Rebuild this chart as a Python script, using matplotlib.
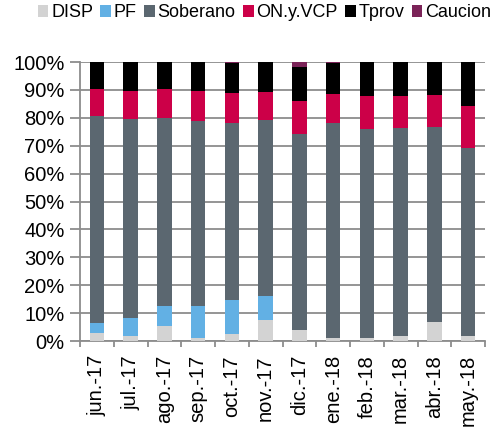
import matplotlib
matplotlib.use("Agg")
import matplotlib.pyplot as plt
import numpy as np

plt.rcParams['font.family'] = ['Liberation Sans', 'DejaVu Sans']

# monthly composition (% of total)
months = ["jun.-17", "jul.-17", "ago.-17", "sep.-17", "oct.-17", "nov.-17",
          "dic.-17", "ene.-18", "feb.-18", "mar.-18", "abr.-18", "may.-18"]
disp = [2.9, 2.0, 5.3, 1.0, 2.5, 7.4, 4.1, 1.0, 1.0, 2.0, 6.8, 2.0]
pf = [3.7, 6.3, 7.4, 11.5, 12.4, 8.8, 0.0, 0.0, 0.0, 0.0, 0.0, 0.0]
soberano = [74.2, 71.3, 67.3, 66.4, 63.3, 63.2, 70.3, 77.0, 74.9, 74.3, 69.8, 67.2]
on_vcp = [9.7, 10.1, 10.2, 10.6, 10.8, 9.8, 11.5, 10.4, 11.8, 11.7, 11.7, 15.2]
tprov = [9.5, 10.3, 9.8, 10.5, 10.5, 10.8, 12.5, 11.1, 12.3, 12.0, 11.7, 15.6]
caucion = [0.0, 0.0, 0.0, 0.0, 0.5, 0.0, 1.6, 0.5, 0.0, 0.0, 0.0, 0.0]

series = [
    ("DISP", disp, "#d3d3d3"),
    ("PF", pf, "#62b0e4"),
    ("Soberano", soberano, "#5b6770"),
    ("ON.y.VCP", on_vcp, "#cc0048"),
    ("Tprov", tprov, "#000000"),
    ("Caucion", caucion, "#7b2358"),
]

fig = plt.figure(figsize=(4.97, 4.34), dpi=100)
ax = fig.add_axes([0.161, 0.214, 0.815, 0.643])

x = np.arange(len(months))
bottom = np.zeros(len(months))
for name, vals, col in series:
    vals = np.array(vals)
    ax.bar(x, vals / 100, 0.43, bottom=bottom / 100, color=col, label=name, zorder=3)
    bottom = bottom + vals

grid_col = "#8c8c8c"
ax.set_ylim(0, 1)
ax.set_xlim(-0.5, len(months) - 0.5)
ax.set_yticks(np.arange(0, 1.01, 0.1))
ax.set_yticklabels(["%d%%" % v for v in range(0, 101, 10)], fontsize=14.5)
ax.yaxis.grid(True, color=grid_col, linewidth=1.3, zorder=0)
ax.set_axisbelow(True)

ax.set_xticks(x)
ax.set_xticklabels(months, rotation=90, fontsize=14.5)
ax.set_xticks(np.arange(-0.5, len(months), 1), minor=True)
ax.tick_params(axis="x", which="major", length=0, pad=10)
ax.tick_params(axis="x", which="minor", length=4, color=grid_col, width=1.3)
ax.tick_params(axis="y", length=7, color=grid_col, width=1.3, pad=4)

for s in ["top", "right"]:
    ax.spines[s].set_visible(False)
for s in ["left", "bottom"]:
    ax.spines[s].set_color(grid_col)
    ax.spines[s].set_linewidth(1.3)

fig.legend(loc="upper right", bbox_to_anchor=(1.01, 1.015), ncol=6, frameon=False,
           fontsize=13, handlelength=0.6, handleheight=0.6, handletextpad=0.15,
           columnspacing=0.4, borderaxespad=0.2)

fig.savefig("out.png", dpi=100)
